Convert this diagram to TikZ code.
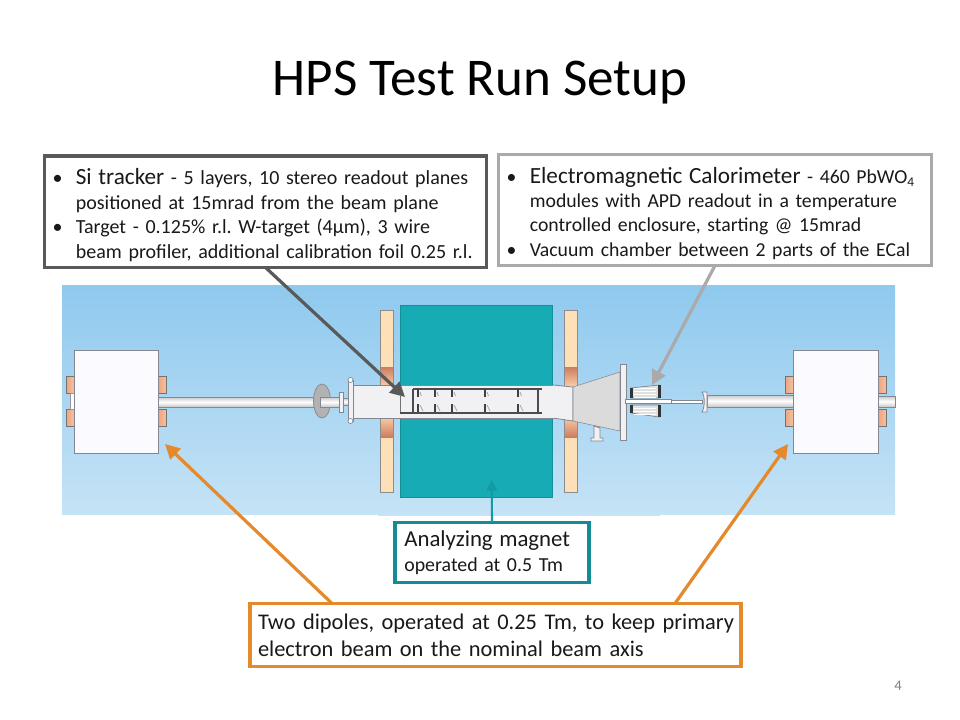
\documentclass[tikz,border=0pt]{standalone}
\usepackage{fontspec}
\setmainfont{Carlito}
\usepackage{tikz}
\usetikzlibrary{arrows.meta, calc}
\frenchspacing

\definecolor{skytop}{RGB}{143,201,238}
\definecolor{skybot}{RGB}{197,227,246}
\definecolor{magteal}{RGB}{22,171,181}
\definecolor{boxteal}{RGB}{20,140,150}
\definecolor{arrowteal}{RGB}{18,155,165}
\definecolor{boxorange}{RGB}{228,138,44}
\definecolor{boxdark}{RGB}{89,89,89}
\definecolor{boxgray}{RGB}{170,170,170}
\definecolor{coilcream}{RGB}{253,224,184}
\definecolor{coilcopper}{RGB}{238,165,125}
\definecolor{coildark}{RGB}{205,125,95}
\definecolor{pipeline}{RGB}{130,135,145}
\definecolor{vesselfill}{RGB}{241,241,244}
\definecolor{inktext}{RGB}{25,25,25}

\tikzset{
    infobox/.style={draw=#1, line width=2.6pt, fill=white, anchor=north west, align=left,
        inner xsep=0pt, inner ysep=0pt, outer sep=0pt, text=inktext},
    callout/.style={draw=#1, line width=2.4pt, -{Triangle[length=11pt, width=11pt]}},
    dipole/.style={fill=white!98!blue, draw=pipeline, line width=0.6pt},
    coil/.style={left color=coilcopper, right color=coilcopper!70!white, draw=black!55, line width=0.6pt},
    beampipe/.style={top color=black!22, bottom color=black!22, middle color=white, draw=pipeline, line width=0.5pt},
    vessel/.style={fill=vesselfill, draw=pipeline, line width=0.6pt},
    sensor/.style={draw=black!75, line width=1pt},
}
\newcommand{\bul}{\makebox[23.5pt][l]{\hspace{6pt}•}}
\newcommand{\hang}{\hspace{23.5pt}}
\newcommand{\lead}[1]{{\fontsize{17.4}{19}\selectfont #1}}

\begin{document}
\begin{tikzpicture}[x=0.75pt, y=-0.75pt, font=\fontsize{15}{18.6}\selectfont]
    \useasboundingbox (0,0) rectangle (960,720);
    \fill[white] (0,0) rectangle (960,720);
    \node[font=\fontsize{39.8}{42}\selectfont, anchor=base] (title) at (480,96) {HPS Test Run Setup};
    \node[font=\fontsize{11}{13}\selectfont, text=black!50] (pagenum) at (898,686) {4};

    \shade[top color=skytop, bottom color=skybot] (62,286) rectangle (895,514);
    \fill[skybot] (378,514) rectangle (660,516);

    % magnet and its coils
    \foreach \cx in {380,564} {
        \fill[coilcream] (\cx,310) rectangle ++(13,182);
        \shade[top color=coildark, bottom color=coilcream!60!coilcopper] (\cx,367) rectangle ++(13,18);
        \shade[top color=coilcream!60!coilcopper, bottom color=coildark] (\cx,418) rectangle ++(13,19);
        \draw[black!45, line width=0.5pt] (\cx,310) rectangle ++(13,182);
    }
    \draw[magteal, fill=magteal] (400,305) rectangle (552,497);
    \draw[black!30!magteal, opacity=0.5, line width=0.5pt] (400,305) rectangle (552,497);

    % dipoles
    \foreach \dx in {66,158,785,878} {
        \draw[coil] (\dx,376) rectangle ++(8,17);
        \draw[coil] (\dx,409) rectangle ++(8,17);
    }
    \draw[fill=white, draw=black!40, line width=0.4pt] (70,393) rectangle (74,409);
    \draw[beampipe] (158,397) rectangle (340,407);
    \draw[beampipe] (707,395) rectangle (793,407);
    \draw[beampipe] (878,396) rectangle (895,407);
    \draw[dipole] (74,350) rectangle (158,453);
    \draw[dipole] (793,350) rectangle (878,453);

    % vacuum chamber
    \draw[black!45, fill=black!30, line width=0.6pt] (322,401) ellipse (8.5 and 17);
    \draw[beampipe] (320,397) rectangle (340,407);
    \draw[beampipe] (342,398) rectangle (349,405);
    \draw[vessel] (339,392) rectangle (343,412);
    \draw[vessel] (353,385) rectangle (553,418);
    \draw[vessel] (348,380) rectangle (353,421);
    \foreach \fy in {380,421} \draw[pipeline, fill=white, line width=0.5pt] (350.5,\fy) circle (2.5);
    \draw[vessel] (553,385) -- (573,387) -- (573,421) -- (553,418);
    \fill[vesselfill] (552,385.5) rectangle (554,417.5);
    \draw[pipeline, fill=black!14] (573,387) -- (620,372) -- (620,431) -- (573,421) -- cycle;
    \draw[vessel] (594,426) -- (600,428) -- (600,438) -- (603,438) -- (603,441) -- (591,441) -- (591,438) -- (594,438) -- cycle;
    \draw[vessel] (620,364) rectangle (626,440);

    % ecal
    \draw[fill=black!12, draw=black!55, line width=0.4pt] (631,388) -- (659,385) -- (659,398) -- (631,398) -- cycle;
    \draw[fill=black!12, draw=black!55, line width=0.4pt] (631,405) -- (659,405) -- (659,417) -- (631,413) -- cycle;
    \foreach \ey in {388,391,394,397,408,411,414}
        \draw[white, line width=0.7pt] (634,\ey) -- (656,\ey);
    \fill[black!80] (630,388) rectangle (633,398);
    \fill[black!80] (630,405) rectangle (633,413);
    \fill[black!80] (658,385) rectangle (661,398);
    \fill[black!80] (658,405) rectangle (661,417);
    \draw[fill=white, draw=pipeline, line width=0.5pt] (671,400) rectangle (702,403);
    \draw[fill=white, draw=pipeline, line width=0.5pt] (625,399.5) rectangle (671,403.5);
    \draw[vessel] (702,392) .. controls (705,396) and (705,407) .. (702,412) -- (707,412) -- (707,392) -- cycle;

    % tracker
    \draw[black!70, line width=1.2pt] (413,389) -- (542,389);
    \draw[black!70, line width=1.5pt] (400,412.5) -- (542,412.5);
    \draw[black!55, line width=0.6pt] (400,396) -- (400,412);
    \foreach \tx in {413,538} \draw[black!70, line width=1.2pt] (\tx,389) -- (\tx,412);
    \foreach \tx in {418,435,452,485,518} {
        \draw[sensor] (\tx,389) -- (\tx,397);
        \draw[sensor] (\tx,404) -- (\tx,412);
        \draw[black!35, line width=0.6pt] (\tx+2,392) -- ++(1.5,4);
        \draw[black!35, line width=0.6pt] (\tx+2,405) -- ++(3,6);
    }

    % text boxes
    \node[infobox=boxdark, text width=331.5pt, minimum height=83.6pt] (sibox) at (44.5,156) {%
        \rule{0pt}{17pt}\bul\lead{Si tracker} - 5 layers, 10 stereo readout planes\\
        \hang positioned at 15mrad from the beam plane\\
        \bul Target - 0.125\% r.l. W-target (4µm), 3 wire\\
        \hang beam profiler, additional calibration foil 0.25 r.l.};
    \node[infobox=boxgray, text width=324.75pt, minimum height=83.25pt, font=\fontsize{14.8}{18.3}\selectfont] (ecalbox) at (498.5,154.5) {%
        \rule{0pt}{17pt}\bul\lead{Electromagnetic Calorimeter} - 460 PbWO\raisebox{-2.5pt}{\fontsize{10}{10}\selectfont 4}\\
        \hang modules with APD readout in a temperature\\
        \hang controlled enclosure, starting @ 15mrad\\
        \bul Vacuum chamber between 2 parts of the ECal};
    \node[infobox=boxteal, text width=145.5pt, minimum height=45pt, font=\fontsize{14.9}{18.4}\selectfont] (magbox) at (395,522.5) {%
        \hspace{7pt}{\fontsize{17.1}{19}\selectfont Analyzing magnet}\\
        \hspace{7pt}operated at 0.5 Tm};
    \node[infobox=boxorange, text width=368.25pt, minimum height=47.25pt, font=\fontsize{16.8}{20}\selectfont] (dipbox) at (250,603.5) {%
        \hspace{6pt}Two dipoles, operated at 0.25 Tm, to keep primary\\
        \hspace{6pt}electron beam on the nominal beam axis};

    % callouts
    \coordinate (sitip) at (405,397);
    \coordinate (ecaltip) at (652,385);
    \coordinate (magtip) at (491.7,480);
    \coordinate (diptipa) at (165,444);
    \coordinate (diptipb) at (788,444);
    \draw[callout=boxdark] (sibox.south) -- (sitip);
    \draw[callout=boxgray] (ecalbox.south) -- (ecaltip);
    \draw[draw=arrowteal, line width=1.6pt, -{Triangle[length=8pt, width=8pt]}] (magbox.north) -- (magtip);
    \draw[callout=boxorange] ([xshift=-122.6pt]dipbox.north) -- (diptipa);
    \draw[callout=boxorange] ([xshift=134.6pt]dipbox.north) -- (diptipb);
\end{tikzpicture}
\end{document}
